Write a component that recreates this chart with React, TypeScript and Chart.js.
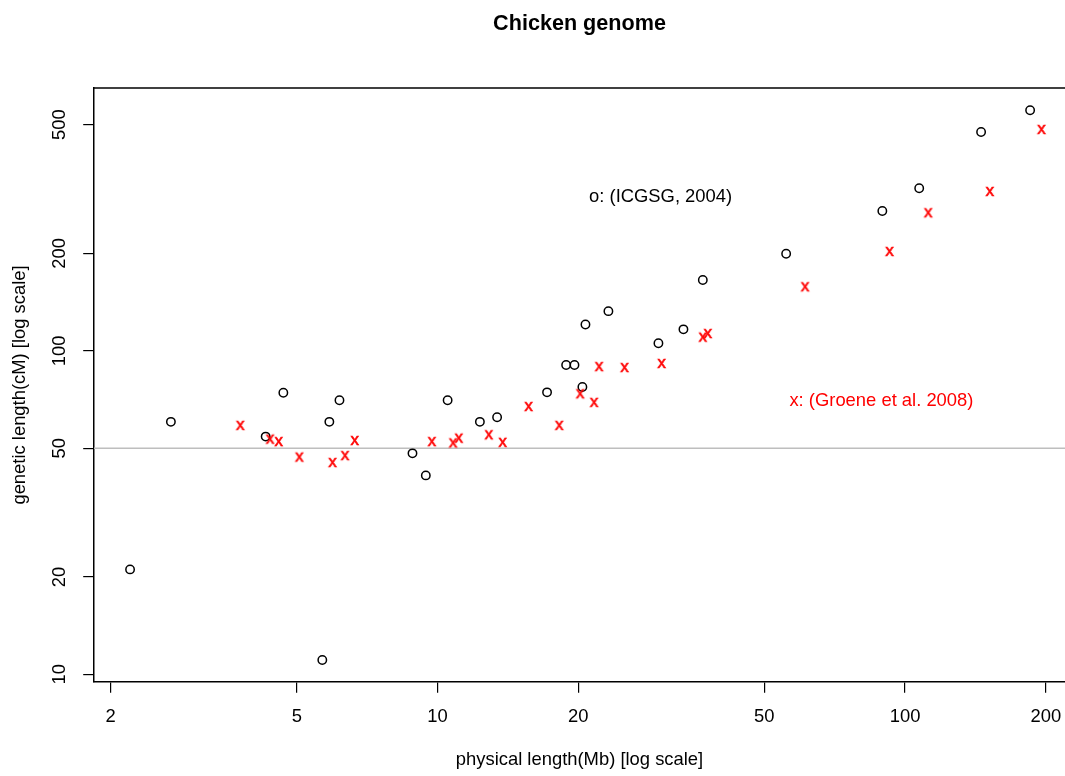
import React, { useEffect, useRef } from 'react';
import { Chart, registerables } from 'chart.js';

Chart.register(...registerables);

// ---- data ----
const physIcgsg = [2.2, 2.69, 4.29, 4.68, 5.67, 5.87, 6.17, 8.84, 9.44, 10.51, 12.32, 13.41, 17.15, 18.84, 19.63, 20.41, 20.72, 23.2, 29.68, 33.57, 36.93, 55.67, 89.4, 107.2, 145.4, 185.1];
const geneIcgsg = [21.1, 60.3, 54.3, 74.2, 11.07, 60.3, 70.3, 48.2, 41.2, 70.3, 60.3, 62.3, 74.4, 90.4, 90.4, 77.3, 120.6, 132.6, 105.5, 116.5, 165.5, 199.6, 270.4, 317.9, 474.8, 553.9];
const physGroene = [3.79, 4.39, 4.58, 5.07, 5.97, 6.35, 6.66, 9.74, 10.81, 11.12, 12.89, 13.8, 15.68, 18.23, 20.21, 21.65, 22.19, 25.15, 30.18, 36.98, 37.9, 61.2, 92.75, 112.2, 152.0, 196.0];
const geneGroene = [59.0, 53.5, 52.6, 47.1, 45.3, 47.6, 53.0, 52.6, 52.1, 53.9, 55.2, 52.3, 67.5, 59.0, 73.9, 69.5, 89.7, 89.1, 91.7, 110.6, 113.5, 158.3, 203.5, 268.0, 311.9, 484.9];

const xTickValues = [2, 5, 10, 20, 50, 100, 200];
const yTickValues = [10, 20, 50, 100, 200, 500];
const xRange = [1.842, 219.8];
const yRange = [9.467, 649.2];
const refLineValue = 50;

const noteTexts = ['o: (ICGSG, 2004)', 'x: (Groene et al. 2008)'];
const noteX = [30, 89];
const noteY = [300, 70];
const noteColors = ['#000000', '#FF0000'];

const titleText = 'Chicken genome';
const xTitle = 'physical length(Mb) [log scale]';
const yTitle = 'genetic length(cM) [log scale]';

const FAMILY = "'Liberation Sans', Arial, Helvetica, sans-serif";
const BASE = 18.4;

function makeGlyph(ch: string, color: string, size: number): HTMLCanvasElement {
  const c = document.createElement('canvas');
  const dim = 22;
  c.width = dim;
  c.height = dim;
  const g = c.getContext('2d') as CanvasRenderingContext2D;
  g.font = `${size}px ${FAMILY}`;
  g.fillStyle = color;
  g.strokeStyle = color;
  g.lineWidth = 0.6;
  g.textBaseline = 'alphabetic';
  const m = g.measureText(ch);
  const inkW = m.actualBoundingBoxLeft + m.actualBoundingBoxRight;
  const inkH = m.actualBoundingBoxAscent + m.actualBoundingBoxDescent;
  const x0 = dim / 2 - inkW / 2 + m.actualBoundingBoxLeft;
  const y0 = dim / 2 - inkH / 2 + m.actualBoundingBoxAscent;
  g.fillText(ch, x0, y0);
  g.strokeText(ch, x0, y0);
  return c;
}

const decorPlugin = {
  id: 'decor',
  beforeDatasetsDraw(chart: any) {
    const { ctx, chartArea, scales } = chart;
    const y = scales.y.getPixelForValue(refLineValue);
    ctx.save();
    ctx.strokeStyle = '#BEBEBE';
    ctx.lineWidth = 1.5;
    ctx.beginPath();
    ctx.moveTo(chartArea.left, y);
    ctx.lineTo(chartArea.right, y);
    ctx.stroke();
    ctx.restore();
  },
  afterDatasetsDraw(chart: any) {
    const { ctx, scales } = chart;
    ctx.save();
    ctx.font = `${BASE}px ${FAMILY}`;
    ctx.textAlign = 'center';
    ctx.textBaseline = 'middle';
    noteTexts.forEach((t, i) => {
      ctx.fillStyle = noteColors[i];
      ctx.fillText(t, scales.x.getPixelForValue(noteX[i]), scales.y.getPixelForValue(noteY[i]));
    });
    ctx.restore();
  },
  afterDraw(chart: any) {
    const { ctx, chartArea } = chart;
    ctx.save();
    ctx.strokeStyle = '#000';
    ctx.lineWidth = 1.5;
    ctx.beginPath();
    ctx.moveTo(chartArea.left, chartArea.top);
    ctx.lineTo(chartArea.right + 2, chartArea.top);
    ctx.stroke();
    ctx.restore();
  },
};

export default function App() {
  const ref = useRef<HTMLCanvasElement | null>(null);

  useEffect(() => {
    if (!ref.current) return;
    Chart.defaults.font.family = FAMILY;
    const xGlyph = makeGlyph('x', '#FF0000', 17);

    const chart = new Chart(ref.current, {
      type: 'scatter',
      data: {
        datasets: [
          {
            label: 'Groene et al. 2008',
            data: physGroene.map((x, i) => ({ x, y: geneGroene[i] })),
            pointStyle: xGlyph as any,
            pointRadius: 4,
            showLine: false,
            order: 0,
          },
          {
            label: 'ICGSG 2004',
            data: physIcgsg.map((x, i) => ({ x, y: geneIcgsg[i] })),
            pointStyle: 'circle',
            pointRadius: 4.2,
            pointBorderWidth: 1.5,
            pointBorderColor: '#000',
            pointBackgroundColor: 'rgba(0,0,0,0)',
            showLine: false,
            order: 1,
          },
        ],
      },
      options: {
        responsive: false,
        animation: false,
        devicePixelRatio: 1,
        layout: { padding: 0, autoPadding: false },
        events: [],
        plugins: {
          legend: { display: false },
          tooltip: { enabled: false },
          title: {
            display: true,
            text: titleText,
            color: '#000',
            fullSize: false,
            font: { size: 21.6, weight: 'bold', family: FAMILY },
            padding: { top: 11.3, bottom: 50.78 },
          },
        },
        scales: {
          x: {
            type: 'logarithmic',
            position: 'bottom',
            min: xRange[0],
            max: xRange[1],
            afterBuildTicks: (s: any) => {
              s.ticks = xTickValues.map((v) => ({ value: v }));
            },
            afterFit: (s: any) => {
              s.height = 94;
              s.paddingLeft = 0;
              s.paddingRight = 0;
            },
            ticks: {
              autoSkip: false,
              minRotation: 0,
              maxRotation: 0,
              padding: 13.2,
              color: '#000',
              font: { size: BASE, family: FAMILY },
              callback: (v: any) => String(v),
            },
            grid: {
              drawOnChartArea: false,
              drawTicks: true,
              tickLength: 10.8,
              color: '#000',
              tickColor: '#000',
              lineWidth: 1.2,
            },
            border: { display: true, color: '#000', width: 1.5 },
            title: {
              display: true,
              text: xTitle,
              color: '#000',
              font: { size: BASE, family: FAMILY },
              padding: { top: 0, bottom: 4.8 },
            },
          },
          y: {
            type: 'logarithmic',
            position: 'left',
            min: yRange[0],
            max: yRange[1],
            afterBuildTicks: (s: any) => {
              s.ticks = yTickValues.map((v) => ({ value: v }));
            },
            afterFit: (s: any) => {
              s.width = 94;
              s.paddingTop = 0;
              s.paddingBottom = 0;
            },
            ticks: {
              autoSkip: false,
              minRotation: 90,
              maxRotation: 90,
              crossAlign: 'center',
              padding: 7.8,
              color: '#000',
              font: { size: BASE, family: FAMILY },
              callback: (v: any) => String(v),
            },
            grid: {
              drawOnChartArea: false,
              drawTicks: true,
              tickLength: 10.8,
              color: '#000',
              tickColor: '#000',
              lineWidth: 1.2,
            },
            border: { display: true, color: '#000', width: 1.5 },
            title: {
              display: true,
              text: yTitle,
              color: '#000',
              font: { size: BASE, family: FAMILY },
              padding: { top: 9.2, bottom: 0 },
            },
          },
        },
      } as any,
      plugins: [decorPlugin],
    });
    return () => chart.destroy();
  }, []);

  return (
    <div style={{ position: 'absolute', left: 0, top: 0, width: 1065, height: 776, background: '#fff' }}>
      <canvas ref={ref} width={1065} height={776} style={{ display: 'block' }} />
    </div>
  );
}
